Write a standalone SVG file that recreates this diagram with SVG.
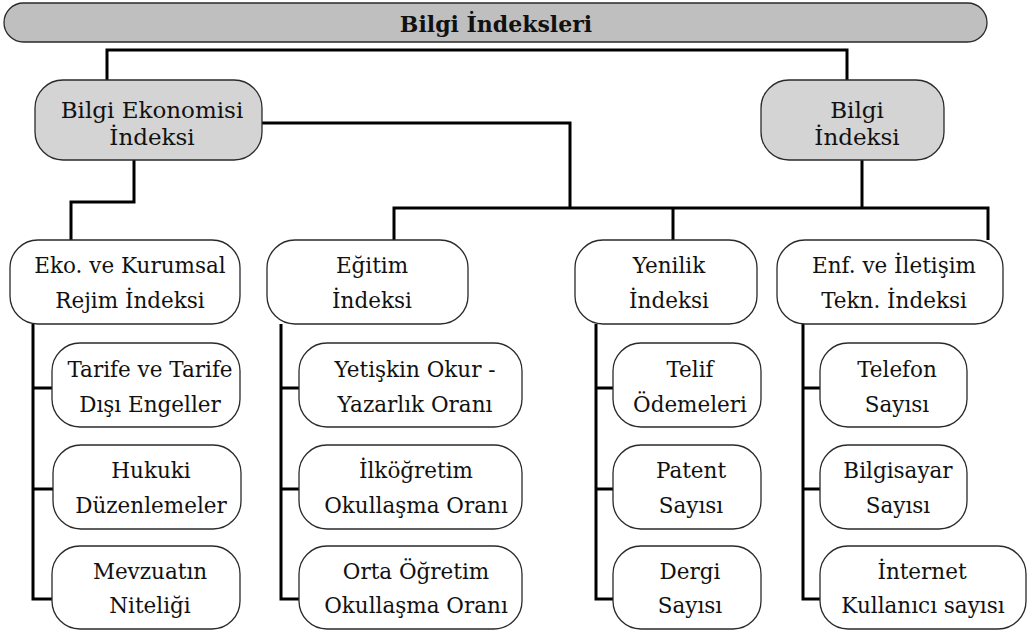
<svg xmlns="http://www.w3.org/2000/svg" width="1033" height="632" viewBox="0 0 1033 632">
<style>
.c{fill:none;stroke:#000;stroke-width:3;stroke-linejoin:miter}
.n{fill:#fff;stroke:#2a2a2a;stroke-width:1.3}
.g{fill:#d4d4d4;stroke:#2a2a2a;stroke-width:1.3}
.t{fill:#bfbfbf;stroke:#2a2a2a;stroke-width:1.3}
.x{font-family:'DejaVu Serif','Liberation Serif',serif;font-size:21.5px;fill:#111;text-anchor:middle}
.b{font-weight:bold;font-size:22px}
.l1{font-size:23px}
</style>
<rect width="1033" height="632" fill="#fff"/>
<g id="connectors">
<path class="c" d="M107,80 V50 H847 V80"/>
<path class="c" d="M262,123 H570 V208"/>
<path class="c" d="M862,160 V208"/>
<path class="c" d="M394,240 V208 H988 V240"/>
<path class="c" d="M673,208 V240"/>
<path class="c" d="M134,160 V202 H71 V240"/>
<path class="c" d="M33,324 V599 H52 M33,388 H52 M33,489 H53"/>
<path class="c" d="M281,324 V599 H299 M281,388 H299 M281,489 H299"/>
<path class="c" d="M596,324 V599 H613 M596,388 H613 M596,489 H613"/>
<path class="c" d="M803,324 V599 H820 M803,388 H820 M803,489 H820"/>
</g>
<g id="title">
<rect class="t" x="4" y="3" width="983" height="39" rx="19.5"/>
<text class="x b" x="496" y="32">Bilgi İndeksleri</text>
</g>
<g id="bilgi-ekonomisi">
<rect class="g" x="35" y="80" width="227" height="80" rx="28"/>
<text class="x l1" x="152" y="118">Bilgi Ekonomisi</text>
<text class="x l1" x="152" y="145">İndeksi</text>
</g>
<g id="bilgi-indeksi">
<rect class="g" x="761" y="80" width="183" height="80" rx="28"/>
<text class="x l1" x="857" y="118">Bilgi</text>
<text class="x l1" x="857" y="145">İndeksi</text>
</g>
<g id="eko">
<rect class="n" x="10" y="240" width="230" height="84" rx="28"/>
<text class="x" x="130" y="273">Eko. ve Kurumsal</text>
<text class="x" x="130" y="308">Rejim İndeksi</text>
</g>
<g id="egitim">
<rect class="n" x="267" y="240" width="201" height="84" rx="28"/>
<text class="x" x="372" y="273">Eğitim</text>
<text class="x" x="372" y="308">İndeksi</text>
</g>
<g id="yenilik">
<rect class="n" x="575" y="240" width="182" height="84" rx="28"/>
<text class="x" x="669" y="273">Yenilik</text>
<text class="x" x="669" y="308">İndeksi</text>
</g>
<g id="enf">
<rect class="n" x="777" y="240" width="226" height="84" rx="28"/>
<text class="x" x="894" y="273">Enf. ve İletişim</text>
<text class="x" x="894" y="308">Tekn. İndeksi</text>
</g>
<g id="tarife">
<rect class="n" x="52" y="343" width="188" height="84" rx="28"/>
<text class="x" x="150" y="377">Tarife ve Tarife</text>
<text class="x" x="150" y="412">Dışı Engeller</text>
</g>
<g id="hukuki">
<rect class="n" x="53" y="445" width="188" height="84" rx="28"/>
<text class="x" x="151" y="478">Hukuki</text>
<text class="x" x="151" y="513">Düzenlemeler</text>
</g>
<g id="mevzuat">
<rect class="n" x="52" y="546" width="188" height="83" rx="28"/>
<text class="x" x="150" y="579">Mevzuatın</text>
<text class="x" x="150" y="613">Niteliği</text>
</g>
<g id="yetiskin">
<rect class="n" x="299" y="343" width="223" height="84" rx="28"/>
<text class="x" x="415" y="377">Yetişkin Okur -</text>
<text class="x" x="415" y="412">Yazarlık Oranı</text>
</g>
<g id="ilkogretim">
<rect class="n" x="299" y="445" width="223" height="84" rx="28"/>
<text class="x" x="416" y="478">İlköğretim</text>
<text class="x" x="416" y="513">Okullaşma Oranı</text>
</g>
<g id="ortaogretim">
<rect class="n" x="299" y="546" width="223" height="83" rx="28"/>
<text class="x" x="416" y="579">Orta Öğretim</text>
<text class="x" x="416" y="613">Okullaşma Oranı</text>
</g>
<g id="telif">
<rect class="n" x="613" y="343" width="148" height="84" rx="28"/>
<text class="x" x="690" y="377">Telif</text>
<text class="x" x="690" y="412">Ödemeleri</text>
</g>
<g id="patent">
<rect class="n" x="613" y="445" width="148" height="84" rx="28"/>
<text class="x" x="691" y="478">Patent</text>
<text class="x" x="691" y="513">Sayısı</text>
</g>
<g id="dergi">
<rect class="n" x="613" y="546" width="148" height="83" rx="28"/>
<text class="x" x="690" y="579">Dergi</text>
<text class="x" x="690" y="613">Sayısı</text>
</g>
<g id="telefon">
<rect class="n" x="820" y="343" width="147" height="84" rx="28"/>
<text class="x" x="897" y="377">Telefon</text>
<text class="x" x="897" y="412">Sayısı</text>
</g>
<g id="bilgisayar">
<rect class="n" x="820" y="445" width="147" height="84" rx="28"/>
<text class="x" x="898" y="478">Bilgisayar</text>
<text class="x" x="898" y="513">Sayısı</text>
</g>
<g id="internet">
<rect class="n" x="820" y="546" width="206" height="83" rx="28"/>
<text class="x" x="922" y="579">İnternet</text>
<text class="x" x="923" y="613">Kullanıcı sayısı</text>
</g>
</svg>
